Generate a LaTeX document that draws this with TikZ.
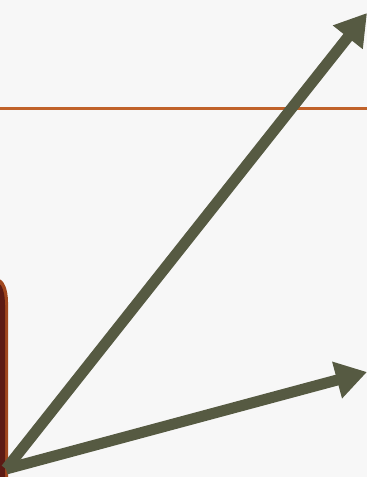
\documentclass[tikz,border=0pt]{standalone}
\usetikzlibrary{arrows.meta}
\definecolor{bgc}{HTML}{F7F7F7}
\definecolor{arrowc}{HTML}{565A42}
\definecolor{rulec}{HTML}{C0622A}
\definecolor{barfill}{HTML}{5C1A14}
\definecolor{baredge}{HTML}{A0461E}
\tikzset{
  vec/.style={draw=arrowc, line width=11pt, -{Triangle[length=31pt,width=36pt]}},
  rulel/.style={draw=rulec, line width=3pt},
}
\begin{document}
\begin{tikzpicture}[x=1pt,y=-1pt]
\fill[bgc] (0,0) rectangle (367,477);
\useasboundingbox (0,0) rectangle (367,477);
% left bar
\fill[baredge] (-2,477) -- (-2,279) .. controls (4,279) and (8,290) .. (8,302) -- (8,477) -- cycle;
\fill[barfill] (-2,477) -- (-2,283) .. controls (2,284) and (5,293) .. (5,305) -- (5,477) -- cycle;
% rule
\coordinate (rl) at (0,108.5);
\coordinate (rr) at (367,108.5);
\draw[rulel] (rl) -- (rr);
% arrows
\coordinate (o) at (6,469);
\coordinate (t1) at (367,13);
\coordinate (t2) at (367,372);
\draw[vec] (o) -- (t1);
\draw[vec] (o) -- (t2);
\end{tikzpicture}
\end{document}
